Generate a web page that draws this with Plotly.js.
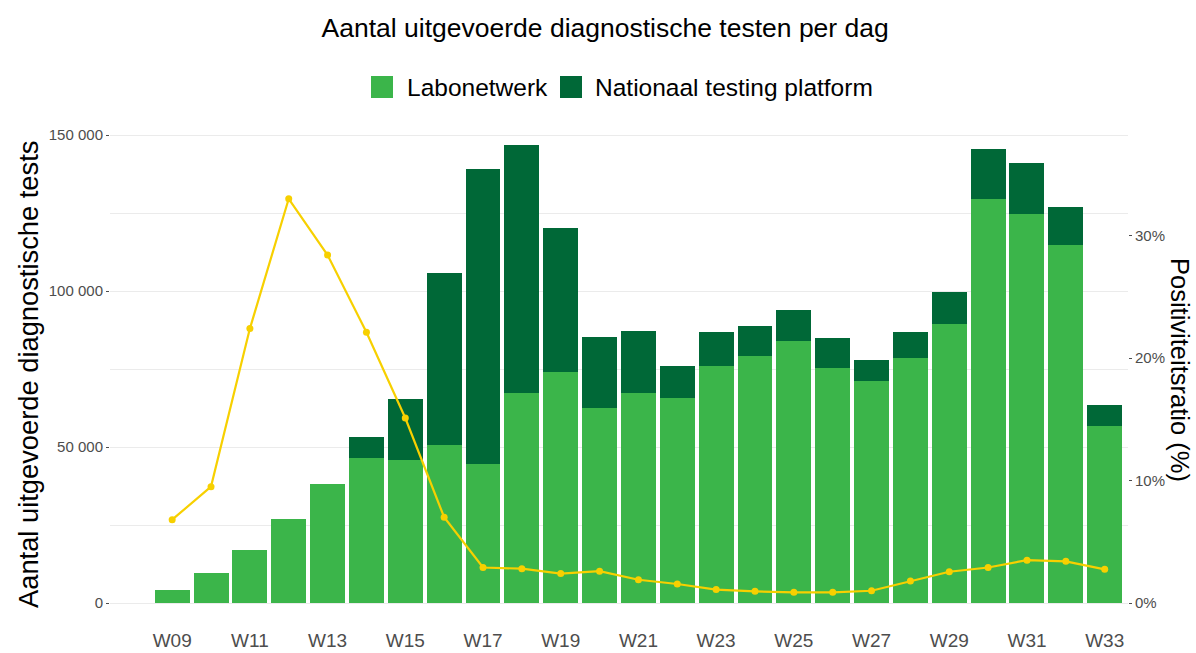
<!DOCTYPE html>
<html>
<head>
<meta charset="utf-8">
<script src="https://cdn.plot.ly/plotly-3.0.1.min.js"></script>
<style>html,body{margin:0;padding:0;background:#fff;}#chart{width:1196px;height:653px;}</style>
</head>
<body>
<div id="chart"></div>
<script>
// ---- data ----
var weeks = ["W09","W10","W11","W12","W13","W14","W15","W16","W17","W18","W19","W20","W21",
             "W22","W23","W24","W25","W26","W27","W28","W29","W30","W31","W32","W33"];
var weekTickLabels = ["W09","W11","W13","W15","W17","W19","W21","W23","W25","W27","W29","W31","W33"];
var labonetwerk = [4200, 9700, 17000, 26900, 38000, 46500, 45700, 50800, 44400, 67200, 73900, 62600, 67200,
                   65600, 76100, 79200, 83900, 75200, 71100, 78600, 89400, 129500, 124600, 114600, 56700];
var totalTests = [4200, 9700, 17000, 26900, 38000, 53300, 65400, 105900, 139000, 146800, 120300, 85400, 87200,
                  75900, 86800, 88800, 93800, 84800, 77900, 86800, 99600, 145400, 140900, 127000, 63600];
var positiviteit = [6.8, 9.5, 22.4, 33.0, 28.4, 22.1, 15.1, 7.0, 2.9, 2.8, 2.4, 2.6, 1.9,
                    1.55, 1.1, 0.95, 0.87, 0.87, 1.0, 1.8, 2.55, 2.9, 3.5, 3.4, 2.75];
var pctTickVals = [0, 10, 20, 30];
var pctTickText = ["0%", "10%", "20%", "30%"];
var seriesNames = ["Labonetwerk", "Nationaal testing platform"];
var titleText = "Aantal uitgevoerde diagnostische testen per dag";
var yTitleLeft = "Aantal uitgevoerde diagnostische tests";
var yTitleRight = "Positiviteitsratio (%)";

var ntp = totalTests.map(function(t, i){ return t - labonetwerk[i]; });

// ---- styling / layout ----
var FONT = "Liberation Sans, Arial, Helvetica, sans-serif";
var W = 1196, H = 653;
var M = {l: 110, r: 68, t: 120, b: 31};
var pw = W - M.l - M.r, ph = H - M.t - M.b;
function px(x){ return (x - M.l) / pw; }
function py(y){ return (H - M.b - y) / ph; }
var colLight = "#3bb54a", colDark = "#006837", colLine = "#f7d000";

var traces = [
  {type: "bar", x: weeks, y: labonetwerk, name: seriesNames[0], marker: {color: colLight}, showlegend: false},
  {type: "bar", x: weeks, y: ntp, name: seriesNames[1], marker: {color: colDark}, showlegend: false},
  {type: "scatter", mode: "lines+markers", x: weeks, y: positiviteit, yaxis: "y2", name: "Positiviteitsratio",
   line: {color: colLine, width: 2.2}, marker: {color: colLine, size: 7}, showlegend: false}
];

var layout = {
  width: W, height: H,
  margin: M,
  paper_bgcolor: "#fff", plot_bgcolor: "#fff",
  font: {family: FONT, color: "#000"},
  separators: ", ",
  barmode: "stack",
  bargap: 0.1,
  title: {text: titleText, font: {size: 26.5, family: FONT, color: "#000"},
          xref: "container", x: 0.506, xanchor: "center", yref: "container", y: 1 - 28/H, yanchor: "middle"},
  xaxis: {type: "category", categoryorder: "array", categoryarray: weeks, range: [-1.6, 24.6],
          tickmode: "array", tickvals: weekTickLabels, ticktext: weekTickLabels,
          showgrid: false, zeroline: false, showline: false, ticks: "outside", ticklen: 1, tickcolor: "#fff",
          tickfont: {size: 19, color: "#4d4d4d", family: FONT}},
  yaxis: {range: [-6090, 154808], tick0: 0, dtick: 50000, tickformat: ",d",
          showgrid: true, gridcolor: "#ebebeb", gridwidth: 1,
          minor: {dtick: 25000, showgrid: true, gridcolor: "#ebebeb", gridwidth: 1},
          zeroline: false, showline: false, ticks: "outside", ticklen: 3, tickcolor: "#4d4d4d",
          tickfont: {size: 15, color: "#4d4d4d", family: FONT}},
  yaxis2: {overlaying: "y", side: "right", range: [-1.551, 39.43], tickmode: "array",
           tickvals: pctTickVals, ticktext: pctTickText, showgrid: false, zeroline: false, showline: false,
           ticks: "outside", ticklen: 3, tickcolor: "#4d4d4d",
           tickfont: {size: 15, color: "#4d4d4d", family: FONT}},
  shapes: [
    {type: "rect", xref: "paper", yref: "paper", x0: px(371), x1: px(393), y0: py(98), y1: py(76),
     fillcolor: colLight, line: {width: 0}},
    {type: "rect", xref: "paper", yref: "paper", x0: px(560), x1: px(582), y0: py(98), y1: py(76),
     fillcolor: colDark, line: {width: 0}}
  ],
  annotations: [
    {text: seriesNames[0], xref: "paper", yref: "paper", x: px(405), y: py(87), xanchor: "left", yanchor: "middle",
     showarrow: false, font: {size: 24.5, family: FONT, color: "#000"}},
    {text: seriesNames[1], xref: "paper", yref: "paper", x: px(593), y: py(87), xanchor: "left", yanchor: "middle",
     showarrow: false, font: {size: 24.5, family: FONT, color: "#000"}},
    {text: yTitleLeft, xref: "paper", yref: "paper", x: px(28), y: py(375), xanchor: "center", yanchor: "middle",
     textangle: -90, showarrow: false, font: {size: 27.3, family: FONT, color: "#000"}},
    {text: yTitleRight, xref: "paper", yref: "paper", x: px(1180), y: py(370), xanchor: "center", yanchor: "middle",
     textangle: 90, showarrow: false, font: {size: 25.5, family: FONT, color: "#000"}}
  ]
};

Plotly.newPlot("chart", traces, layout, {displayModeBar: false, staticPlot: true});
</script>
</body>
</html>
